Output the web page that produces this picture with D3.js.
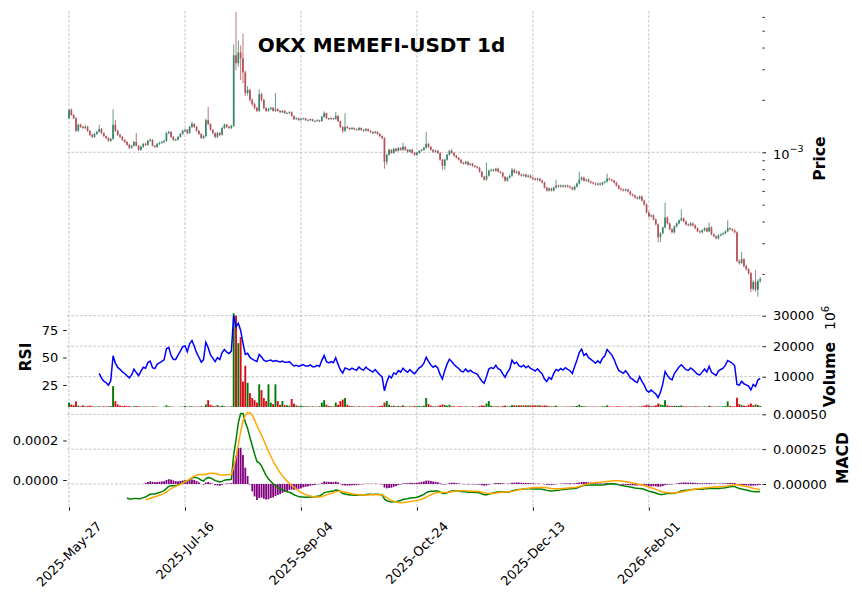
<!DOCTYPE html>
<html>
<head>
<meta charset="utf-8">
<script src="https://cdn.jsdelivr.net/npm/d3@7"></script>
<style>
  body { margin: 0; background: #fff; }
  svg text { font-family: "DejaVu Sans", sans-serif; }
</style>
</head>
<body>
<div id="chart"></div>
<script>
// daily OHLC, prices in units of 1e-3 USDT, first candle 2025-05-27
const opens = [
  1.57,1.75,1.64,1.57,1.33,1.44,1.40,1.38,1.40,1.33,
  1.26,1.226,1.275,1.31,1.36,1.29,1.24,1.21,1.163,1.194,
  1.44,1.33,1.26,1.226,1.179,1.148,1.104,1.061,1.089,1.148,
  1.089,1.033,1.075,1.118,1.104,1.163,1.179,1.089,1.075,1.118,
  1.133,1.148,1.163,1.29,1.31,1.226,1.179,1.18,1.226,1.275,
  1.33,1.345,1.29,1.40,1.455,1.40,1.33,1.275,1.21,1.24,
  1.53,1.455,1.345,1.29,1.226,1.29,1.26,1.38,1.44,1.40,
  1.38,1.42,3.61,3.25,3.75,3.47,2.88,2.19,2.28,2.00,
  1.89,1.80,1.73,2.16,2.00,1.80,1.73,1.77,1.80,1.73,
  1.77,1.73,1.70,1.73,1.68,1.68,1.70,1.62,1.55,1.57,
  1.53,1.55,1.57,1.53,1.53,1.55,1.51,1.51,1.53,1.51,
  1.60,1.68,1.57,1.55,1.57,1.55,1.62,1.51,1.40,1.33,
  1.40,1.38,1.36,1.38,1.36,1.345,1.38,1.345,1.33,1.36,
  1.33,1.31,1.29,1.31,1.275,1.24,1.21,0.882,0.968,1.033,
  0.993,1.047,1.020,1.061,1.033,1.075,1.033,1.007,1.033,0.993,
  0.968,0.993,1.020,1.033,1.061,1.118,1.075,1.033,1.007,1.020,
  0.993,0.906,0.837,0.906,0.968,1.020,0.993,0.955,0.930,0.906,
  0.871,0.860,0.882,0.848,0.860,0.837,0.826,0.815,0.774,0.724,
  0.696,0.734,0.784,0.794,0.784,0.805,0.774,0.764,0.724,0.687,
  0.715,0.734,0.794,0.764,0.774,0.744,0.734,0.744,0.724,0.734,
  0.715,0.706,0.696,0.706,0.687,0.670,0.627,0.603,0.619,0.603,
  0.627,0.644,0.635,0.644,0.635,0.644,0.635,0.627,0.611,0.635,
  0.661,0.696,0.715,0.687,0.696,0.678,0.670,0.661,0.652,0.661,
  0.652,0.670,0.678,0.706,0.696,0.687,0.670,0.644,0.619,0.611,
  0.603,0.611,0.595,0.572,0.564,0.550,0.542,0.557,0.528,0.501,
  0.451,0.428,0.434,0.411,0.385,0.325,0.342,0.370,0.422,0.390,
  0.361,0.347,0.375,0.390,0.406,0.417,0.401,0.385,0.380,0.390,
  0.380,0.366,0.351,0.347,0.356,0.366,0.351,0.370,0.338,0.329,
  0.320,0.333,0.338,0.342,0.351,0.366,0.361,0.356,0.347,0.237,
  0.231,0.243,0.222,0.213,0.202,0.164,0.180,0.162,0.182
]
const highs = [
  1.78,1.79,1.66,1.59,1.46,1.46,1.42,1.44,1.42,1.34,
  1.28,1.29,1.33,1.44,1.38,1.30,1.25,1.22,1.21,1.77,
  1.53,1.35,1.28,1.24,1.19,1.16,1.12,1.10,1.16,1.29,
  1.10,1.09,1.13,1.14,1.18,1.20,1.19,1.10,1.13,1.15,
  1.16,1.18,1.31,1.33,1.32,1.24,1.20,1.24,1.29,1.35,
  1.37,1.36,1.42,1.50,1.47,1.42,1.34,1.29,1.26,1.56,
  1.82,1.47,1.36,1.30,1.31,1.31,1.40,1.46,1.46,1.42,
  1.44,4.17,6.40,4.39,4.11,4.80,2.95,2.40,2.32,2.04,
  1.93,1.83,2.30,2.20,2.03,1.82,1.80,1.83,1.82,2.19,
  1.79,1.75,1.75,1.75,1.70,1.72,1.72,1.63,1.59,1.58,
  1.57,1.58,1.58,1.55,1.56,1.56,1.53,1.55,1.54,1.62,
  1.72,1.69,1.58,1.59,1.58,1.70,1.63,1.52,1.41,1.68,
  1.42,1.39,1.40,1.39,1.37,1.40,1.39,1.36,1.38,1.37,
  1.34,1.32,1.33,1.32,1.29,1.25,1.22,0.98,1.05,1.04,
  1.06,1.06,1.07,1.07,1.133,1.085,1.045,1.045,1.045,1.0,
  1.005,1.03,1.045,1.075,1.31,1.13,1.085,1.045,1.035,1.03,
  1.0,0.915,0.92,0.98,1.033,1.047,1.0,0.965,0.94,0.915,
  0.88,0.895,0.89,0.87,0.87,0.845,0.835,0.825,0.78,0.73,
  0.871,0.794,0.805,0.805,0.815,0.815,0.784,0.77,0.73,0.724,
  0.744,0.815,0.805,0.784,0.784,0.754,0.754,0.754,0.744,0.744,
  0.724,0.715,0.715,0.715,0.696,0.678,0.635,0.627,0.627,0.635,
  0.696,0.652,0.652,0.652,0.652,0.652,0.644,0.635,0.644,0.670,
  0.774,0.724,0.724,0.706,0.706,0.687,0.678,0.670,0.670,0.670,
  0.678,0.687,0.754,0.715,0.706,0.696,0.678,0.652,0.627,0.619,
  0.619,0.619,0.603,0.580,0.572,0.557,0.564,0.564,0.535,0.508,
  0.457,0.440,0.440,0.417,0.390,0.347,0.375,0.514,0.428,0.395,
  0.366,0.380,0.395,0.411,0.470,0.422,0.406,0.390,0.396,0.396,
  0.385,0.370,0.356,0.361,0.370,0.370,0.396,0.375,0.342,0.333,
  0.338,0.342,0.347,0.356,0.406,0.370,0.366,0.361,0.351,0.243,
  0.267,0.246,0.226,0.216,0.205,0.184,0.210,0.186,0.192
]
const lows = [
  1.55,1.62,1.55,1.31,1.31,1.38,1.36,1.36,1.31,1.24,
  1.21,1.21,1.26,1.30,1.27,1.22,1.19,1.15,1.15,1.18,
  1.31,1.24,1.21,1.16,1.13,1.09,1.04,1.05,1.08,1.08,
  1.02,1.02,1.06,1.09,1.09,1.15,1.08,1.06,1.06,1.10,
  1.12,1.13,1.15,1.27,1.21,1.16,1.16,1.17,1.21,1.26,
  1.31,1.27,1.28,1.38,1.38,1.31,1.26,1.19,1.19,1.22,
  1.43,1.33,1.27,1.20,1.21,1.24,1.25,1.36,1.38,1.36,
  1.36,1.40,2.96,3.10,2.60,2.50,2.10,2.12,1.95,1.85,
  1.76,1.70,1.71,1.96,1.76,1.70,1.71,1.75,1.71,1.71,
  1.71,1.68,1.68,1.66,1.66,1.66,1.60,1.53,1.54,1.52,
  1.52,1.54,1.52,1.51,1.52,1.50,1.49,1.50,1.49,1.50,
  1.58,1.55,1.53,1.54,1.53,1.54,1.49,1.38,1.29,1.31,
  1.36,1.34,1.35,1.34,1.33,1.33,1.33,1.31,1.32,1.31,
  1.29,1.27,1.28,1.26,1.22,1.19,0.805,0.848,0.955,0.98,
  0.98,1.005,1.01,1.02,1.02,1.02,0.995,0.995,0.98,0.955,
  0.955,0.98,1.01,1.02,1.05,1.06,1.02,0.995,0.995,0.98,
  0.895,0.794,0.794,0.895,0.955,0.98,0.943,0.92,0.895,0.86,
  0.85,0.85,0.837,0.837,0.826,0.815,0.805,0.764,0.715,0.687,
  0.69,0.724,0.774,0.774,0.774,0.764,0.754,0.715,0.678,0.678,
  0.706,0.724,0.754,0.754,0.734,0.724,0.724,0.715,0.715,0.706,
  0.696,0.687,0.687,0.678,0.661,0.619,0.595,0.595,0.595,0.595,
  0.619,0.627,0.627,0.627,0.627,0.627,0.619,0.603,0.603,0.627,
  0.652,0.687,0.678,0.678,0.670,0.661,0.652,0.644,0.644,0.644,
  0.644,0.661,0.670,0.687,0.678,0.661,0.635,0.611,0.603,0.595,
  0.595,0.587,0.564,0.557,0.542,0.535,0.535,0.521,0.494,0.445,
  0.422,0.422,0.406,0.380,0.304,0.304,0.338,0.366,0.385,0.356,
  0.342,0.342,0.370,0.385,0.401,0.396,0.380,0.375,0.375,0.375,
  0.361,0.347,0.342,0.342,0.351,0.347,0.347,0.333,0.325,0.316,
  0.316,0.329,0.333,0.338,0.347,0.356,0.351,0.342,0.234,0.226,
  0.228,0.218,0.209,0.198,0.157,0.160,0.158,0.148,0.178
]
const closes = [
  1.75,1.64,1.57,1.33,1.44,1.40,1.38,1.40,1.33,1.26,
  1.226,1.275,1.31,1.36,1.29,1.24,1.21,1.163,1.194,1.44,
  1.33,1.26,1.226,1.179,1.148,1.104,1.061,1.089,1.148,1.089,
  1.033,1.075,1.118,1.104,1.163,1.179,1.089,1.075,1.118,1.133,
  1.148,1.163,1.29,1.31,1.226,1.179,1.18,1.226,1.275,1.33,
  1.345,1.29,1.40,1.455,1.40,1.33,1.275,1.21,1.24,1.53,
  1.455,1.345,1.29,1.226,1.29,1.26,1.38,1.44,1.40,1.38,
  1.42,3.61,3.25,3.75,3.47,2.88,2.19,2.28,2.00,1.89,
  1.80,1.73,2.16,2.00,1.80,1.73,1.77,1.80,1.73,1.77,
  1.73,1.70,1.73,1.68,1.68,1.70,1.62,1.55,1.57,1.53,
  1.55,1.57,1.53,1.53,1.55,1.51,1.51,1.53,1.51,1.60,
  1.68,1.57,1.55,1.57,1.55,1.62,1.51,1.40,1.33,1.40,
  1.38,1.36,1.38,1.36,1.345,1.38,1.345,1.33,1.36,1.33,
  1.31,1.29,1.31,1.275,1.24,1.21,0.882,0.968,1.033,0.993,
  1.047,1.020,1.061,1.033,1.075,1.033,1.007,1.033,0.993,0.968,
  0.993,1.020,1.033,1.061,1.118,1.075,1.033,1.007,1.020,0.993,
  0.906,0.837,0.906,0.968,1.020,0.993,0.955,0.930,0.906,0.871,
  0.860,0.882,0.848,0.860,0.837,0.826,0.815,0.774,0.724,0.696,
  0.734,0.784,0.794,0.784,0.805,0.774,0.764,0.724,0.687,0.715,
  0.734,0.794,0.764,0.774,0.744,0.734,0.744,0.724,0.734,0.715,
  0.706,0.696,0.706,0.687,0.670,0.627,0.603,0.619,0.603,0.627,
  0.644,0.635,0.644,0.635,0.644,0.635,0.627,0.611,0.635,0.661,
  0.696,0.715,0.687,0.696,0.678,0.670,0.661,0.652,0.661,0.652,
  0.670,0.678,0.706,0.696,0.687,0.670,0.644,0.619,0.611,0.603,
  0.611,0.595,0.572,0.564,0.550,0.542,0.557,0.528,0.501,0.451,
  0.428,0.434,0.411,0.385,0.325,0.342,0.370,0.422,0.390,0.361,
  0.347,0.375,0.390,0.406,0.417,0.401,0.385,0.380,0.390,0.380,
  0.366,0.351,0.347,0.356,0.366,0.351,0.370,0.338,0.329,0.320,
  0.333,0.338,0.342,0.351,0.366,0.361,0.356,0.347,0.237,0.231,
  0.243,0.222,0.213,0.202,0.164,0.180,0.162,0.182,0.187
]
// volume in millions
const volumes = [
  1500,900,600,1900,500,300,600,300,400,500,
  300,200,200,300,200,300,200,300,400,6900,
  2000,900,500,400,500,300,400,200,300,400,
  300,200,200,300,200,200,300,200,200,100,
  100,200,600,300,200,200,100,100,200,200,
  400,200,300,300,200,200,200,300,200,900,
  2300,800,400,300,700,300,500,300,200,200,
  300,30800,30000,21000,23000,8400,13600,8000,4600,3000,
  2300,1500,7500,5600,3000,2000,7500,1500,1000,7500,
  2000,800,2000,700,600,500,2700,1200,600,400,
  500,300,300,300,200,300,200,200,300,1500,
  2300,800,400,300,300,1500,800,2000,2500,3000,
  800,400,300,300,200,300,200,300,200,200,
  300,300,200,300,400,500,1500,2000,800,400,
  500,300,400,300,600,300,200,300,300,400,
  300,400,300,500,3000,1000,500,300,300,300,
  600,900,700,500,800,300,300,200,300,300,
  200,300,200,200,300,200,200,400,600,500,
  1200,2000,500,300,300,300,200,400,500,300,
  300,700,600,600,600,600,600,600,600,600,
  600,600,600,600,400,600,500,300,300,300,
  500,200,200,200,200,200,200,300,300,400,
  800,400,300,300,200,200,200,200,200,200,
  300,300,600,300,200,200,300,300,200,200,
  200,200,300,200,200,200,300,300,500,800,
  600,300,400,600,1200,900,700,2300,600,400,
  400,500,400,400,600,300,300,200,300,200,
  300,300,200,200,300,200,500,300,200,200,
  300,200,300,400,1900,400,300,300,3100,1000,
  700,500,400,800,1200,600,900,700,400
]
const tickIndex = [0, 50, 100, 150, 200, 250]
const tickLabels = ['2025-May-27', '2025-Jul-16', '2025-Sep-04', '2025-Oct-24', '2025-Dec-13', '2026-Feb-01']
const priceMinor = [2e-4, 3e-4, 4e-4, 5e-4, 6e-4, 7e-4, 8e-4, 9e-4, 2e-3, 3e-3, 4e-3, 5e-3, 6e-3]
const volTicks = [10000, 20000, 30000]
const rsiTicks = [25, 50, 75]
const macdTicks = [0, 0.00025, 0.0005]
const signalTicks = [0, 0.0002]

const n = closes.length
const bars = d3.range(n).map(i => ({
  i: i,
  o: opens[i] * 1e-3, h: highs[i] * 1e-3, l: lows[i] * 1e-3, c: closes[i] * 1e-3,
  v: volumes[i]
}))

// indicators, pandas style ewm(adjust=False, min_periods)
function ewm(vals, alpha, minP) {
  let prev = null, cnt = 0
  return vals.map(v => {
    if (v == null || isNaN(v)) return NaN
    prev = prev == null ? v : alpha * v + (1 - alpha) * prev
    cnt++
    return cnt >= minP ? prev : NaN
  })
}
const cl = bars.map(d => d.c)
const diff = cl.map((c, i) => i ? c - cl[i - 1] : NaN)
const up = ewm(diff.map(d => d > 0 ? d : 0), 1 / 14, 14)
const dn = ewm(diff.map(d => d < 0 ? -d : 0), 1 / 14, 14)
const rsi = up.map((u, i) => isNaN(u) ? NaN : (dn[i] === 0 ? 100 : 100 - 100 / (1 + u / dn[i])))
const fast = ewm(cl, 2 / 13, 12)
const slow = ewm(cl, 2 / 27, 26)
const macd = fast.map((f, i) => f - slow[i])
const signal = ewm(macd, 2 / 10, 9)
const hist = macd.map((m, i) => m - signal[i])

const width = 862, height = 600
const svg = d3.select('#chart').append('svg')
  .attr('width', width)
  .attr('height', height)

const x = d3.scaleLinear().domain([-1, 299]).range([66.7, 762.5])
const yPrice = d3.scaleLog().domain([1.308e-4, 6.487e-3]).range([306, 11])
const yVol = d3.scaleLinear().domain([0, 33180]).range([407.2, 306])
const yRsi = d3.scaleLinear().domain([5, 96.8]).range([407, 306])
const yMacd = d3.scaleLinear().domain([-0.0001671, 0.0005524]).range([507.3, 407])
const ySig = d3.scaleLinear().domain([-0.0001382, 0.0003696]).range([507.3, 407])
const left = x.range()[0], right = x.range()[1]

const panels = [[11, 306], [306, 407], [407, 507.3]]
const defs = svg.append('defs')
panels.forEach((p, k) => {
  defs.append('clipPath').attr('id', 'clip' + k)
    .append('rect').attr('x', left).attr('y', p[0]).attr('width', right - left).attr('height', p[1] - p[0])
})

// grid
const grid = svg.append('g')
  .attr('stroke', '#b8b8b8')
  .attr('stroke-width', 0.8)
  .attr('stroke-dasharray', '2.8,1.6')
grid.selectAll('.vg').data(tickIndex).enter().append('line')
  .attr('x1', d => x(d)).attr('x2', d => x(d))
  .attr('y1', 11).attr('y2', 507.3)
const hLines = [yPrice(1e-3)].concat(volTicks.map(yVol), macdTicks.map(yMacd))
grid.selectAll('.hg').data(hLines).enter().append('line')
  .attr('x1', left).attr('x2', right)
  .attr('y1', d => d).attr('y2', d => d)

// candles
const upCol = '#006340', downCol = '#a02128'
const candles = svg.append('g').attr('clip-path', 'url(#clip0)').attr('opacity', 0.78)
candles.selectAll('line').data(bars).enter().append('line')
  .attr('x1', d => x(d.i)).attr('x2', d => x(d.i))
  .attr('y1', d => yPrice(d.h)).attr('y2', d => yPrice(d.l))
  .attr('stroke', d => d.c >= d.o ? upCol : downCol)
  .attr('stroke-width', 0.8)
candles.selectAll('rect').data(bars).enter().append('rect')
  .attr('x', d => x(d.i) - 0.85)
  .attr('width', 1.7)
  .attr('y', d => yPrice(Math.max(d.o, d.c)))
  .attr('height', d => Math.max(0.8, Math.abs(yPrice(d.o) - yPrice(d.c))))
  .attr('fill', d => d.c >= d.o ? upCol : downCol)

// volume
svg.append('g').attr('clip-path', 'url(#clip1)')
  .selectAll('rect').data(bars).enter().append('rect')
  .attr('x', d => x(d.i) - 0.95)
  .attr('width', 1.9)
  .attr('y', d => yVol(d.v))
  .attr('height', d => yVol(0) - yVol(d.v))
  .attr('fill', d => d.c >= d.o ? '#007a00' : '#d50d18')

// rsi
const rsiLine = d3.line().defined(d => !isNaN(d)).x((d, i) => x(i)).y(d => yRsi(d))
svg.append('path').datum(rsi)
  .attr('clip-path', 'url(#clip1)')
  .attr('d', rsiLine)
  .attr('fill', 'none').attr('stroke', '#0000ff').attr('stroke-width', 1.5)

// macd histogram + lines
svg.append('g').attr('clip-path', 'url(#clip2)')
  .selectAll('rect').data(hist.map((h, i) => ({ i, h })).filter(d => !isNaN(d.h))).enter().append('rect')
  .attr('x', d => x(d.i) - 0.9)
  .attr('width', 1.8)
  .attr('y', d => Math.min(yMacd(d.h), yMacd(0)))
  .attr('height', d => Math.abs(yMacd(d.h) - yMacd(0)))
  .attr('fill', '#800080')

const g2 = svg.append('g').attr('clip-path', 'url(#clip2)')
g2.append('path').datum(macd)
  .attr('d', d3.line().defined(d => !isNaN(d)).x((d, i) => x(i)).y(d => yMacd(d)))
  .attr('fill', 'none').attr('stroke', '#008000').attr('stroke-width', 1.5)
g2.append('path').datum(signal)
  .attr('d', d3.line().defined(d => !isNaN(d)).x((d, i) => x(i)).y(d => ySig(d)))
  .attr('fill', 'none').attr('stroke', '#ffa500').attr('stroke-width', 1.5)

// axes
function styleAxis(g) {
  g.select('.domain').remove()
  g.selectAll('text').attr('font-size', 13).attr('font-family', '"DejaVu Sans", sans-serif').attr('fill', '#000')
  g.selectAll('line').attr('stroke', '#000').attr('stroke-width', 0.9)
}
svg.append('g').attr('transform', `translate(${right},0)`)
  .call(d3.axisRight(yPrice).tickValues(priceMinor).tickFormat('').tickSize(2.2).tickSizeOuter(0))
  .call(styleAxis)
svg.append('g').attr('transform', `translate(${right},0)`)
  .call(d3.axisRight(yPrice).tickValues([1e-3]).tickFormat('').tickSize(3.5).tickSizeOuter(0))
  .call(styleAxis)
const exp = svg.append('text').attr('x', 773).attr('y', yPrice(1e-3) + 6.5).attr('font-size', 13)
exp.append('tspan').text('10')
exp.append('tspan').attr('font-size', 9.5).attr('dy', -6.5).text('\u22123')

svg.append('g').attr('transform', `translate(${right},0)`)
  .call(d3.axisRight(yVol).tickValues(volTicks).tickFormat(d3.format('d')).tickSize(3.5).tickPadding(7).tickSizeOuter(0))
  .call(styleAxis)
svg.append('g').attr('transform', `translate(${left},0)`)
  .call(d3.axisLeft(yRsi).tickValues(rsiTicks).tickFormat(d3.format('d')).tickSize(3.5).tickPadding(5).tickSizeOuter(0))
  .call(styleAxis)
svg.append('g').attr('transform', `translate(${right},0)`)
  .call(d3.axisRight(yMacd).tickValues(macdTicks).tickFormat(d3.format('.5f')).tickSize(3.5).tickPadding(7).tickSizeOuter(0))
  .call(styleAxis)
svg.append('g').attr('transform', `translate(${left},0)`)
  .call(d3.axisLeft(ySig).tickValues(signalTicks).tickFormat(d3.format('.4f')).tickSize(3.5).tickPadding(5).tickSizeOuter(0))
  .call(styleAxis)
svg.append('g').attr('transform', 'translate(0,507.3)')
  .call(d3.axisBottom(x).tickValues(tickIndex).tickFormat('').tickSize(3.5).tickSizeOuter(0))
  .call(styleAxis)

// rotated date labels
tickIndex.forEach((t, k) => {
  const lab = svg.append('text')
    .attr('font-size', 13)
    .attr('text-anchor', 'middle')
    .attr('dominant-baseline', 'central')
    .text(tickLabels[k])
  const w = lab.node().getComputedTextLength()
  const cy = 520.5 + (w + 9.5) * Math.SQRT1_2 / 2
  lab.attr('transform', `translate(${x(t)},${cy}) rotate(-45)`)
})

// axis titles
function yTitle(bx, cy) {
  return svg.append('text')
    .attr('transform', `translate(${bx},${cy}) rotate(-90)`)
    .attr('text-anchor', 'middle')
    .attr('font-size', 15.6)
    .attr('font-weight', 'bold')
}
yTitle(825, 158.5).text('Price')
yTitle(31, 357).text('RSI')
yTitle(848, 458).text('MACD')
const vt = yTitle(835, 356.5)
vt.append('tspan').text('Volume')
vt.append('tspan').attr('font-weight', 'normal').attr('dx', 12).attr('font-size', 14).text('10')
vt.append('tspan').attr('font-weight', 'normal').attr('font-size', 10).attr('dy', -6.5).text('6')

// title
svg.append('text')
  .attr('x', 381.5).attr('y', 52)
  .attr('text-anchor', 'middle')
  .attr('font-size', 20)
  .attr('font-weight', 'bold')
  .text('OKX MEMEFI-USDT 1d')
</script>
</body>
</html>
